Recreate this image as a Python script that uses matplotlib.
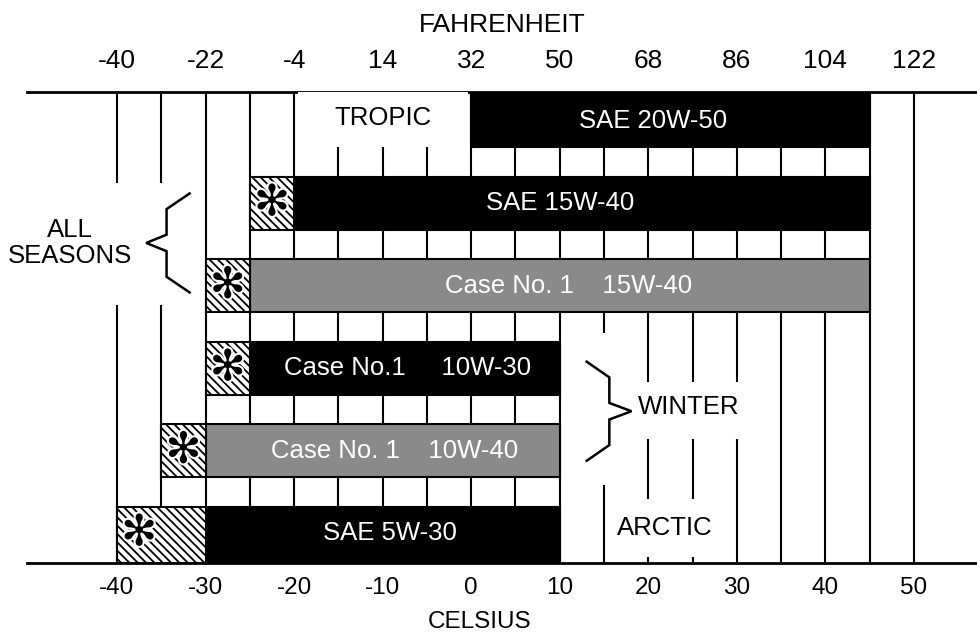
import matplotlib
matplotlib.use('Agg')
import matplotlib.pyplot as plt
import matplotlib.patheffects as pe
from matplotlib import font_manager

# oil grades, top row first
oils = ["SAE 20W-50", "SAE 15W-40", "Case No. 1    15W-40",
        "Case No.1     10W-30", "Case No. 1    10W-40", "SAE 5W-30"]
star_from = [None, -25, -30, -30, -35, -40]   # hatched (*) range start, deg C
solid_from = [0, -20, -25, -25, -30, -30]
solid_to = [45, 45, 45, 10, 10, 10]
shade = ["black", "black", "gray", "black", "gray", "black"]

celsius_ticks = [-40, -30, -20, -10, 0, 10, 20, 30, 40, 50]
fahrenheit_ticks = [-40, -22, -4, 14, 32, 50, 68, 86, 104, 122]
grid_temps = list(range(-40, 51, 5))

# layout
label_x = [20.5, 10, 11, -7.2, -8.7, -9.2]
rows = [5, 4, 3, 2, 1, 0]
bar_h = 0.64
x_lim = (-50.16, 57.23)
y_lim = (-0.36, 5.35)
fills = {"black": "black", "gray": "#8a8a8a"}

plt.rcParams['font.family'] = 'Liberation Sans'
plt.rcParams['axes.unicode_minus'] = False
plt.rcParams['hatch.linewidth'] = 1.3
names = {f.name for f in font_manager.fontManager.ttflist}
narrow = 'Liberation Sans Narrow' if 'Liberation Sans Narrow' in names else 'Liberation Sans'

fig = plt.figure(figsize=(9.78, 6.37), dpi=100)
ax = fig.add_axes([27 / 978, 1 - 563 / 637, 951 / 978, 471 / 637])
ax.set_xlim(*x_lim)
ax.set_ylim(*y_lim)

# grid lines
ax.vlines(grid_temps, y_lim[0], y_lim[1], color='black', lw=1.5, zorder=1)


def bar_edges(i):
    lo, hi = rows[i] - bar_h / 2, rows[i] + bar_h / 2
    if i == 0:
        hi = y_lim[1]
    if i == len(rows) - 1:
        lo = y_lim[0]
    return lo, hi


# blank areas where the grid is broken for the labels
top_lo = bar_edges(0)[0]
masks = [(-19.6, -0.4, top_lo, y_lim[1]),
         (x_lim[0], -30.4, 2.77, 4.25),
         (12.5, 17.5, 0.59, 2.43),
         (17.5, 32.5, 1.14, 1.84),
         (17.5, 27.5, -0.29, 0.41)]
for x0, x1, y0, y1 in masks:
    ax.fill_between([x0, x1], y0, y1, color='white', lw=0, zorder=2)

for i, oil in enumerate(oils):
    lo, hi = bar_edges(i)
    ax.barh(lo, solid_to[i] - solid_from[i], left=solid_from[i], height=hi - lo,
            align='edge', color=fills[shade[i]], edgecolor='black', lw=1.5, zorder=3)
    ax.text(label_x[i], rows[i], oil, color='white', fontsize=18.5,
            ha='center', va='center', zorder=5)
    if star_from[i] is not None:
        ax.barh(lo, solid_from[i] - star_from[i], left=star_from[i], height=hi - lo,
                align='edge', color='white', edgecolor='black', hatch='\\\\\\\\',
                lw=1.5, zorder=3)
        ax.text(star_from[i] + 2.5, rows[i], '\u273b', family='DejaVu Sans',
                fontsize=31, ha='center', va='center', color='black', zorder=5,
                path_effects=[pe.withStroke(linewidth=3, foreground='white')])


def brace(x_end, x_mid, x_tip, yc, half, kink=0.19, tip=0.1):
    xs = [x_end, x_mid, x_mid, x_tip, x_mid, x_mid, x_end]
    ys = [yc + half, yc + half - kink, yc + tip, yc, yc - tip, yc - half + kink, yc - half]
    ax.plot(xs, ys, color='black', lw=1.8, zorder=4, solid_joinstyle='miter')


brace(-31.8, -34.4, -36.7, 3.52, 0.6)
brace(13.05, 15.6, 18.1, 1.48, 0.6)

ax.text(-10, 5.04, "TROPIC", fontsize=18.5, ha='center', va='center', zorder=5)
ax.text(-45.3, 3.52, "ALL\nSEASONS", fontsize=18.5, ha='center', va='center',
        linespacing=1.1, zorder=5)
ax.text(24.5, 1.53, "WINTER", fontsize=18.5, ha='center', va='center', zorder=5)
ax.text(21.9, 0.065, "ARCTIC", fontsize=18.5, ha='center', va='center', zorder=5)

# axes
for side in ['left', 'right', 'top']:
    ax.spines[side].set_visible(False)
ax.spines['bottom'].set_linewidth(2)
ax.set_yticks([])
ax.set_xticks(celsius_ticks)
ax.tick_params(axis='x', length=0, labelsize=17.5, pad=10)
ax.set_xlabel("CELSIUS", fontsize=17.5)
ax.xaxis.set_label_coords(0.476, -0.102)

top = ax.secondary_xaxis('top', functions=(lambda c: c * 9 / 5 + 32,
                                           lambda f: (f - 32) * 5 / 9))
top.set_xticks(fahrenheit_ticks)
top.tick_params(length=0, pad=14)
for lab in top.get_xticklabels():
    lab.set_fontsize(19)
    lab.set_family(narrow)
top.spines['top'].set_linewidth(2)
top.set_xlabel("FAHRENHEIT", fontsize=19, family=narrow, labelpad=12)

fig.savefig('out.png', dpi=100)
